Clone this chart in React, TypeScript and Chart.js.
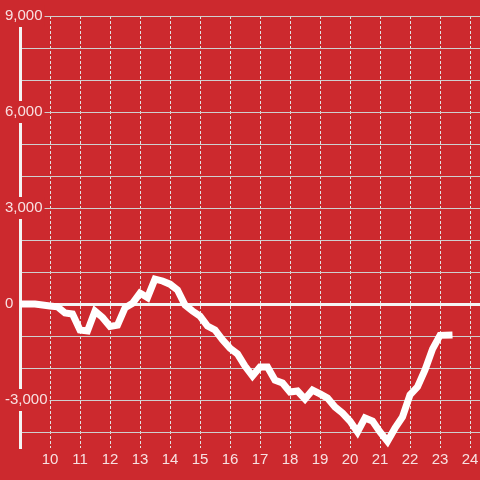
import React, { useEffect, useRef } from 'react';
import { Chart, registerables } from 'chart.js';

Chart.register(...registerables);

// Hours of the day (decimal) and the series values
const TIMES = [
  9.0, 9.25, 9.5, 9.75, 10.0, 10.25, 10.5, 10.75, 11.0, 11.25,
  11.5, 11.75, 12.0, 12.25, 12.5, 12.75, 13.0, 13.25, 13.5, 13.75,
  14.0, 14.25, 14.5, 14.75, 15.0, 15.25, 15.5, 15.75, 16.0, 16.25,
  16.5, 16.75, 17.0, 17.25, 17.5, 17.75, 18.0, 18.25, 18.5, 18.75,
  19.0, 19.25, 19.5, 19.75, 20.0, 20.25, 20.5, 20.75, 21.0, 21.25,
  21.5, 21.75, 22.0, 22.25, 22.5, 22.75, 23.0, 23.3,
];

const VALUES = [
  0, 0, 0, -30, -60, -90, -280, -310, -810, -840,
  -220, -420, -700, -660, -120, 20, 340, 200, 780, 720,
  620, 440, -30, -220, -380, -690, -810, -1120, -1380, -1560,
  -1940, -2250, -1970, -1970, -2380, -2470, -2750, -2720, -2970, -2690,
  -2810, -2940, -3220, -3410, -3660, -4000, -3560, -3660, -4000, -4290,
  -3880, -3530, -2840, -2590, -2060, -1410, -980, -970,
];

const X_TICKS = [10, 11, 12, 13, 14, 15, 16, 17, 18, 19, 20, 21, 22, 23, 24];
const Y_TICKS = [-4000, -3000, -2000, -1000, 0, 1000, 2000, 3000, 4000, 5000, 6000, 7000, 8000, 9000];
const Y_LABELED = [-3000, 0, 3000, 6000, 9000];

const X_MIN = 9;
const X_MAX = 24.3333;
const Y_MIN = -4500;
const Y_MAX = 9000;

const BG = '#cc292e';
const TEXT = 'rgba(255,255,255,0.86)';
const FONT = { family: '"Liberation Sans", Arial, sans-serif', size: 15 };

export default function App() {
  const ref = useRef<HTMLCanvasElement>(null);

  useEffect(() => {
    const chart = new Chart(ref.current as HTMLCanvasElement, {
      type: 'line',
      data: {
        datasets: [
          {
            data: TIMES.map((t, i) => ({ x: t, y: VALUES[i] })),
            borderColor: '#ffffff',
            borderWidth: 7,
            pointRadius: 0,
            tension: 0,
            borderCapStyle: 'square',
            borderJoinStyle: 'miter',
            fill: false,
          },
        ],
      },
      options: {
        animation: false,
        responsive: false,
        devicePixelRatio: 1,
        layout: { padding: { left: 20, top: 16, right: 0, bottom: 0 } },
        plugins: { legend: { display: false }, tooltip: { enabled: false } },
        scales: {
          x: {
            type: 'linear',
            min: X_MIN,
            max: X_MAX,
            afterBuildTicks: (s: any) => {
              s.ticks = X_TICKS.map((v) => ({ value: v }));
            },
            afterFit: (s: any) => {
              s.height = 32;
              s.paddingLeft = 0;
              s.paddingRight = 0;
            },
            grid: { color: '#e2e2e2', lineWidth: 1, drawTicks: false },
            border: { display: false, dash: [3, 2] },
            ticks: {
              color: TEXT,
              font: FONT,
              padding: 3,
              maxRotation: 0,
              autoSkip: false,
              callback: (v: any) => String(v),
            },
          },
          y: {
            type: 'linear',
            min: Y_MIN,
            max: Y_MAX,
            afterBuildTicks: (s: any) => {
              s.ticks = Y_TICKS.map((v) => ({ value: v }));
            },
            afterFit: (s: any) => {
              s.width = 0;
            },
            grid: {
              color: (ctx: any) => (ctx.tick && ctx.tick.value === 0 ? '#f4f4f4' : '#cfcfcf'),
              lineWidth: (ctx: any) => (ctx.tick && ctx.tick.value === 0 ? 3 : 1),
              drawTicks: false,
            },
            border: { display: true, color: '#f4f4f4', width: 3 },
            ticks: {
              mirror: true,
              padding: -15,
              color: TEXT,
              font: FONT,
              autoSkip: false,
              callback: (v: any) =>
                Y_LABELED.includes(Number(v)) ? Number(v).toLocaleString('en-US') : '',
              showLabelBackdrop: (ctx: any) => !!ctx.tick && Y_LABELED.includes(ctx.tick.value),
              backdropColor: BG,
              backdropPadding: 2,
            },
          },
        },
      } as any,
    });
    return () => chart.destroy();
  }, []);

  return (
    <div style={{ position: 'fixed', left: 0, top: 0, width: 480, height: 480, background: BG }}>
      <canvas ref={ref} width={480} height={480} style={{ display: 'block' }} />
    </div>
  );
}
